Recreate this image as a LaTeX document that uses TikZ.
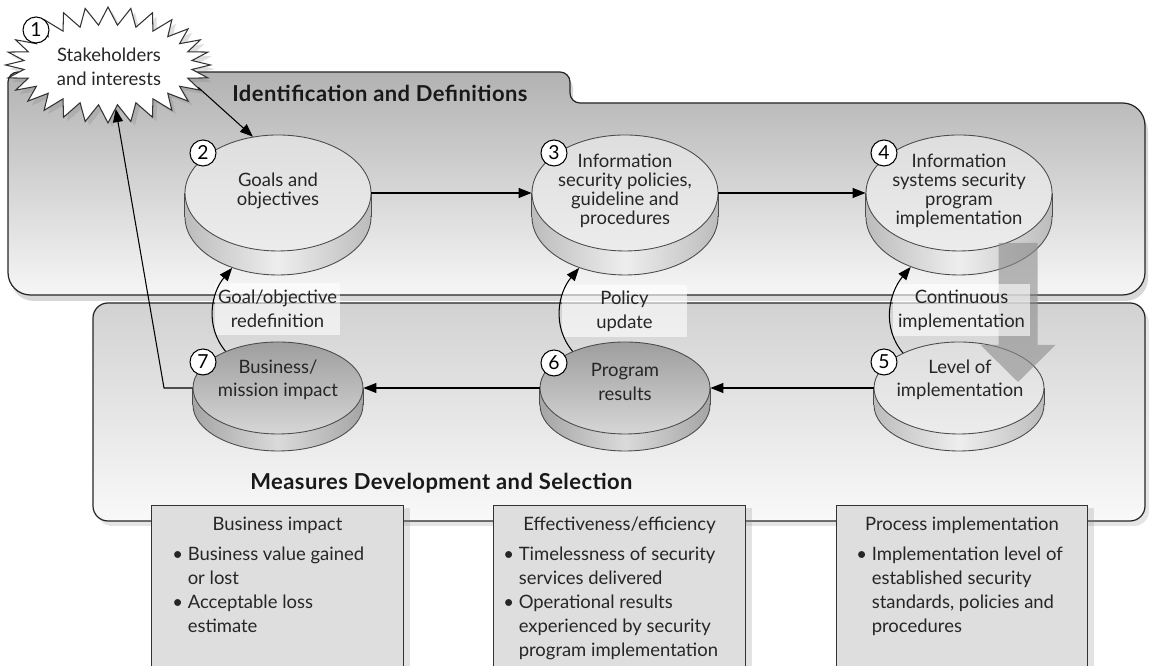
\documentclass[tikz,border=0pt]{standalone}
\usepackage{fontspec}
\setmainfont{Lato}
\usetikzlibrary{positioning, shapes.geometric, shapes.symbols, arrows.meta, shadows}

\definecolor{panelTop}{RGB}{178,178,178}
\definecolor{panelBot}{RGB}{246,246,246}
\definecolor{lowTop}{RGB}{210,210,210}
\definecolor{lowBot}{RGB}{249,249,249}
\definecolor{faceLight}{RGB}{222,222,222}
\definecolor{faceLightB}{RGB}{236,236,236}
\definecolor{faceDark}{RGB}{158,158,158}
\definecolor{faceDarkB}{RGB}{214,214,214}
\definecolor{sideEdge}{RGB}{188,188,188}
\definecolor{sideMid}{RGB}{238,238,238}
\definecolor{sideDark}{RGB}{165,165,165}
\definecolor{sideDarkMid}{RGB}{218,218,218}
\definecolor{boxFill}{RGB}{222,222,222}
\definecolor{flowGray}{RGB}{140,140,140}

\tikzset{
  panel/.style={draw=black!85, line width=0.7pt},
  disctop/.style={ellipse, draw=black!70, line width=0.5pt, inner sep=0pt, minimum width=3.72cm, minimum height=2.32cm},
  disclow/.style={ellipse, draw=black!70, line width=0.5pt, inner sep=0pt, minimum width=3.4cm, minimum height=1.84cm},
  light face/.style={top color=faceLight, bottom color=faceLightB},
  dark face/.style={top color=faceDark, bottom color=faceDarkB},
  side shade/.style={left color=sideEdge, right color=sideEdge, middle color=sideMid},
  dark side/.style={left color=sideDark, right color=sideDark, middle color=sideDarkMid},
  discline/.style={draw=black!70, line width=0.5pt},
  disctext/.style={align=center, inner sep=0pt, text=black!85, font=\fontsize{10.5}{10.8}\selectfont},
  lowtext/.style={align=center, inner sep=0pt, text=black!85, font=\fontsize{10.5}{13.2}\selectfont},
  num/.style={circle, draw=black, line width=0.6pt, fill=white, minimum size=0.52cm, inner sep=0pt, font=\fontsize{11}{11}\selectfont},
  flow/.style={draw=black, line width=0.6pt, -{Triangle[length=2.6mm,width=2mm]}},
  flowlabel/.style={fill=white, fill opacity=0.6, text opacity=1, align=center, inner sep=0pt, text=black!85, font=\fontsize{10.5}{13.6}\selectfont},
  measurebox/.style={draw=black!80, line width=0.6pt, fill=boxFill, anchor=north west, minimum height=3.5cm,
    drop shadow={shadow xshift=0.12cm, shadow yshift=-0.04cm, opacity=0.22}},
  boxhead/.style={inner sep=0pt, text=black!85, font=\fontsize{10.5}{13.6}\selectfont},
  boxlist/.style={align=left, inner sep=0pt, text=black!85, font=\fontsize{10.5}{13.6}\selectfont},
  title/.style={inner sep=0pt, anchor=west, text=black!90, font=\fontsize{12.5}{14}\selectfont\bfseries\addfontfeature{LetterSpace=2}}
}

\begin{document}
\begin{tikzpicture}
\useasboundingbox (0,0) rectangle (23.06,13.32);
\fill[white] (0,0) rectangle (23.06,13.32);

% panels
\draw[panel, top color=panelTop, bottom color=panelBot, drop shadow={shadow xshift=0.06cm, shadow yshift=-0.12cm, opacity=0.3}]
  (0.16,9.5) [rounded corners=0.2cm] -- (0.16,11.88) -- (11.4,11.88) -- (11.4,11.26) [sharp corners] -- (16,11.26)
  [rounded corners=0.45cm] -- (22.9,11.26) -- (22.9,7.42) -- (0.16,7.42) -- cycle;
\draw[panel, top color=lowTop, bottom color=lowBot, rounded corners=0.3cm,
  drop shadow={shadow xshift=0.08cm, shadow yshift=-0.1cm, opacity=0.2}] (1.86,2.9) rectangle (22.9,7.26);

% top row
\node[disctop, side shade] (goalsB) at (5.56,8.98) {};
\fill[side shade] (goalsB.west) rectangle ++(3.72,0.48);
\node[disctop, light face] (goals) at (5.56,9.46) {};
\draw[discline] (goalsB.west) -- (goals.west) (goalsB.east) -- (goals.east);
\node[disctext] (goalsT) at (5.56,9.5) {Goals and\\objectives};

\node[disctop, side shade] (policiesB) at (12.5,8.98) {};
\fill[side shade] (policiesB.west) rectangle ++(3.72,0.48);
\node[disctop, light face] (policies) at (12.5,9.46) {};
\draw[discline] (policiesB.west) -- (policies.west) (policiesB.east) -- (policies.east);
\node[disctext] (policiesT) at (12.5,9.5) {Information\\security policies,\\guideline and\\procedures};

\node[disctop, side shade] (implB) at (19.18,8.98) {};
\fill[side shade] (implB.west) rectangle ++(3.72,0.48);
\node[disctop, light face] (impl) at (19.18,9.46) {};
\draw[discline] (implB.west) -- (impl.west) (implB.east) -- (impl.east);
\node[disctext] (implT) at (19.18,9.5) {Information\\systems security\\program\\implementation};

% bottom row
\node[disclow, dark side] (businessB) at (5.56,5.22) {};
\fill[dark side] (businessB.west) rectangle ++(3.4,0.34);
\node[disclow, dark face] (business) at (5.56,5.56) {};
\draw[discline] (businessB.west) -- (business.west) (businessB.east) -- (business.east);
\node[lowtext] (businessT) at (5.56,5.72) {Business/\\mission impact};

\node[disclow, dark side] (resultsB) at (12.5,5.22) {};
\fill[dark side] (resultsB.west) rectangle ++(3.4,0.34);
\node[disclow, dark face] (results) at (12.5,5.56) {};
\draw[discline] (resultsB.west) -- (results.west) (resultsB.east) -- (results.east);
\node[lowtext] (resultsT) at (12.5,5.68) {Program\\results};

\node[disclow, side shade] (levelB) at (19.18,5.22) {};
\fill[side shade] (levelB.west) rectangle ++(3.4,0.34);
\node[disclow, light face] (level) at (19.18,5.56) {};
\draw[discline] (levelB.west) -- (level.west) (levelB.east) -- (level.east);
\node[lowtext] (levelT) at (19.2,5.72) {Level of\\implementation};

% stakeholders
\node[starburst, draw=black!80, line width=0.6pt, fill=white, starburst points=28, starburst point height=0.36cm,
  random starburst=0, minimum width=4.1cm, minimum height=2.32cm, inner sep=0pt,
  drop shadow={shadow xshift=0.08cm, shadow yshift=-0.08cm, opacity=0.25}] (stake) at (2.16,12.02) {};
\node[lowtext, font=\fontsize{10.5}{13.6}\selectfont] (stakeT) at (2.18,11.98) {Stakeholders\\and interests};

% numbers
\node[num] (n1) at (0.72,12.72) {1};
\node[num] (n2) at (4.06,10.26) {2};
\node[num] (n3) at (11.08,10.26) {3};
\node[num] (n4) at (17.68,10.26) {4};
\node[num] (n5) at (17.68,6.08) {5};
\node[num] (n6) at (11.08,6.06) {6};
\node[num] (n7) at (4.06,6.08) {7};

% flow
\coordinate (backTurn) at (3.28,5.56);
\draw[flow] (stake.-14) -- (goals.114);
\draw[flow] (goals.east) -- (policies.west);
\draw[flow] (policies.east) -- (impl.west);
\draw[flow] (level.west) -- (results.east);
\draw[flow] (results.west) -- (business.east);
\draw[flow] (business.west) -- (backTurn) -- (stake.-80);

% big gray arrow
\fill[flowGray, opacity=0.6] (19.97,8.46) -- (20.75,8.46) -- (20.75,6.42) -- (21.11,6.42) -- (20.36,5.68)
  -- (19.61,6.42) -- (19.97,6.42) -- cycle;

% labels
\node[flowlabel, minimum width=2.5cm, minimum height=1.04cm] (redef) at (5.55,7.14) {Goal/objective\\redefinition};
\node[flowlabel, minimum width=2.5cm, minimum height=1.04cm] (update) at (12.49,7.1) {Policy\\update};
\node[flowlabel, minimum width=2.74cm, minimum height=1.04cm] (cont) at (19.23,7.12) {Continuous\\implementation};

\draw[flow] (business.145) to[out=130, in=230] (goalsB.228);
\draw[flow] (results.145) to[out=130, in=230] (policiesB.228);
\draw[flow] (level.148) to[out=130, in=230] (implB.226);

\node[title] (identT) at (4.64,11.46) {Identification and Definitions};
\node[title] (measT) at (5.0,3.66) {Measures Development and Selection};

% measure boxes
\node[measurebox, minimum width=5.04cm] (bizBox) at (3.02,3.22) {};
\node[boxhead, below=0.24cm of bizBox.north] (bizHead) {Business impact};
\node[boxlist, below right=0.84cm and 0.42cm of bizBox.north west] (bizList)
  {\textbullet\ Business value gained\\\phantom{\textbullet\ }or lost\\\textbullet\ Acceptable loss\\\phantom{\textbullet\ }estimate};

\node[measurebox, minimum width=5.04cm] (effBox) at (9.86,3.22) {};
\node[boxhead, below=0.24cm of effBox.north] (effHead) {Effectiveness/efficiency};
\node[boxlist, below right=0.84cm and 0.2cm of effBox.north west] (effList)
  {\textbullet\ Timelessness of security\\\phantom{\textbullet\ }services delivered\\\textbullet\ Operational results\\\phantom{\textbullet\ }experienced by security\\\phantom{\textbullet\ }program implementation};

\node[measurebox, minimum width=5.02cm] (procBox) at (16.72,3.22) {};
\node[boxhead, below=0.24cm of procBox.north] (procHead) {Process implementation};
\node[boxlist, below right=0.84cm and 0.4cm of procBox.north west] (procList)
  {\textbullet\ Implementation level of\\\phantom{\textbullet\ }established security\\\phantom{\textbullet\ }standards, policies and\\\phantom{\textbullet\ }procedures};

\end{tikzpicture}
\end{document}
